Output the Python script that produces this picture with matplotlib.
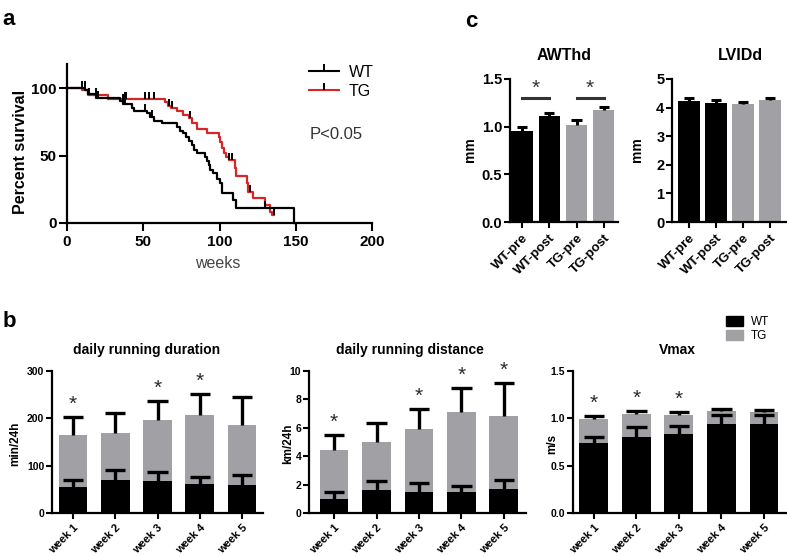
import numpy as np
import matplotlib
matplotlib.use("Agg")
import matplotlib.pyplot as plt
from matplotlib.lines import Line2D
from matplotlib.patches import Patch

plt.rcParams['font.family'] = ['Liberation Sans', 'DejaVu Sans']

W, H = 787, 556
GRAY = '#a1a1a5'
RED = '#d62728'

# ---- panel a: survival (Kaplan-Meier steps)
wt_time = [0, 12, 14, 19, 35, 37, 42.6, 43.7, 52.5, 54.6, 56.8, 62.3, 72, 74, 76, 78, 80, 82,
           83.5, 85, 90.7, 91.8, 92.9, 94, 96, 98.4, 100.5, 101.6, 109, 110.5, 148.8]
wt_surv = [100, 98.5, 96, 93, 90.6, 88, 85.5, 83, 81.5, 78.5, 76, 74, 71, 68.6, 66.7, 64, 61, 58,
           54, 52, 49, 46, 43, 39.5, 37, 33, 29.6, 22.5, 17, 11.3, 0]
tg_time = [0, 10, 14, 27, 64, 66.5, 68.5, 72, 76, 80, 82, 85, 92, 99.5, 100.5, 101.5, 103, 104.5,
           106, 110, 111, 118, 119, 122, 130, 133, 134.5, 135.5]
tg_surv = [100, 98.5, 94.8, 91.8, 89.5, 87, 85, 83, 80.5, 78, 74, 70, 67, 64, 60, 56, 52, 49,
           46.5, 41, 35, 29.6, 23, 18.5, 13.3, 8.4, 6, 6]
wt_cens = [10, 11.5, 20, 36.5, 38, 51, 56, 130]
tg_cens = [12, 14.5, 19, 38, 39, 51, 53.5, 57, 67, 69, 80.5, 106, 108, 120, 135.5]

# ---- panel b: running (WT black, TG gray, mean and SEM)
weeks = ['week 1', 'week 2', 'week 3', 'week 4', 'week 5']
dur_wt = [54, 69, 67, 62, 60]
dur_wt_err = [16, 22, 20, 15, 20]
dur_tg = [164, 170, 196, 206, 185]
dur_tg_err = [39, 41, 41, 46, 60]
dur_sig = [0, 2, 3]
dist_wt = [1.0, 1.59, 1.45, 1.45, 1.68]
dist_wt_err = [0.45, 0.68, 0.65, 0.47, 0.61]
dist_tg = [4.42, 5.0, 5.91, 7.08, 6.82]
dist_tg_err = [1.05, 1.36, 1.40, 1.75, 2.34]
dist_sig = [0, 2, 3, 4]
vmax_wt = [0.743, 0.806, 0.834, 0.94, 0.94]
vmax_wt_err = [0.063, 0.104, 0.086, 0.094, 0.094]
vmax_tg = [0.99, 1.05, 1.034, 1.076, 1.062]
vmax_tg_err = [0.03, 0.03, 0.036, 0.024, 0.028]
vmax_sig = [0, 1, 2]

# ---- panel c: echo
groups = ['WT-pre', 'WT-post', 'TG-pre', 'TG-post']
awthd = [0.955, 1.113, 1.019, 1.17]
awthd_err = [0.039, 0.027, 0.051, 0.04]
lvidd = [4.24, 4.16, 4.12, 4.25]
lvidd_err = [0.09, 0.09, 0.08, 0.08]
group_colors = ['black', 'black', GRAY, GRAY]


def rect(l, t, r, b):
    return [l / W, 1 - b / H, (r - l) / W, (b - t) / H]


def ftext(x, y, s, **kw):
    fig.text(x / W, 1 - y / H, s, **kw)


def prism(ax, lab_size, tick_len=4):
    for s in ['top', 'right']:
        ax.spines[s].set_visible(False)
    for s in ['left', 'bottom']:
        ax.spines[s].set_linewidth(1.6)
    ax.tick_params(direction='out', length=tick_len, width=1.5, labelsize=lab_size, pad=1.5)
    for lab in ax.get_xticklabels() + ax.get_yticklabels():
        lab.set_fontweight('bold')


def err_bars(ax, x, vals, errs, capw, lw=2.4):
    x = np.asarray(x, float)
    top = np.asarray(vals) + np.asarray(errs)
    ax.vlines(x, vals, top, color='black', lw=lw, zorder=4)
    ax.hlines(top, x - capw, x + capw, color='black', lw=lw, zorder=4)


def step_at(times, surv, t):
    i = np.searchsorted(times, t, side='right') - 1
    return np.asarray(surv)[i]


fig = plt.figure(figsize=(W / 100, H / 100), dpi=100)

# ================= a
ax = fig.add_axes(rect(67, 64, 372, 223))
ax.step(wt_time, wt_surv, where='post', color='black', lw=1.6, clip_on=False, zorder=3)
ax.step(tg_time, tg_surv, where='post', color=RED, lw=1.6, clip_on=False, zorder=2)
ax.plot(wt_cens, step_at(wt_time, wt_surv, wt_cens), ls='none', marker=2, ms=5, mew=1.4,
        color='black', zorder=4)
ax.plot(tg_cens, step_at(tg_time, tg_surv, tg_cens), ls='none', marker=2, ms=5, mew=1.4,
        color='black', zorder=4)
ax.set_xlim(0, 200)
ax.set_ylim(0, 118)
ax.set_xticks([0, 50, 100, 150, 200])
ax.set_yticks([0, 50, 100])
prism(ax, 11, tick_len=6)
ax.tick_params(axis='x', pad=3)
handles = [Line2D([0], [0], color='black', lw=1.5, marker=2, ms=5, mew=1.4, mec='black'),
           Line2D([0], [0], color=RED, lw=1.5, marker=2, ms=5, mew=1.4, mec='black')]
ax.legend(handles, ['WT', 'TG'], loc='upper left', bbox_to_anchor=(309 / W, 1 - 65 / H),
          bbox_transform=fig.transFigure, frameon=False, fontsize=11.5, handlelength=1.9,
          handletextpad=0.6, labelspacing=0.25, borderpad=0, borderaxespad=0, numpoints=1)
ftext(310, 134, 'P<0.05', fontsize=12, color='#333333', va='center')
ftext(21, 152, 'Percent survival', fontsize=11.5, fontweight='bold', rotation=90,
      ha='center', va='center')
ftext(218, 264, 'weeks', fontsize=11.5, color='#444444', ha='center', va='center')
ftext(2, 25, 'a', fontsize=16, fontweight='bold')

# ================= c
for name, vals, errs, ymax, yt, ytl, box, xl, ylab_x, cx in [
        ('AWThd', awthd, awthd_err, 1.5, [0, 0.5, 1.0, 1.5], ['0.0', '0.5', '1.0', '1.5'],
         (510, 79, 618, 222), (-0.44, 3.52), 470, 564),
        ('LVIDd', lvidd, lvidd_err, 5, [0, 1, 2, 3, 4, 5], ['0', '1', '2', '3', '4', '5'],
         (672, 79, 787, 222), (-0.63, 3.63), 637, 740)]:
    ax = fig.add_axes(rect(*box))
    x = np.arange(len(groups))
    ax.bar(x, vals, 0.78, color=group_colors, zorder=2)
    err_bars(ax, x, vals, errs, 0.19, lw=2.2)
    ax.set_xlim(*xl)
    ax.set_ylim(0, ymax)
    ax.set_yticks(yt)
    ax.set_yticklabels(ytl)
    ax.set_xticks(x)
    ax.set_xticklabels(groups, rotation=45, ha='right', rotation_mode='anchor')
    prism(ax, 10.5)
    ax.tick_params(axis='x', pad=3)
    for lab in ax.get_xticklabels():
        lab.set_fontsize(9.5)
    ftext(cx, 56, name, fontsize=11.5, fontweight='bold', ha='center', va='center')
    ftext(ylab_x, 150, 'mm', fontsize=10, fontweight='bold', rotation=90, ha='center', va='center')
    if name == 'AWThd':
        for a, b in [(0, 1), (2, 3)]:
            ax.plot([a, b], [1.30, 1.30], color='#333333', lw=2.2)
            ax.text((a + b) / 2, 1.30, '*', ha='center', va='bottom', fontsize=15, color='#333333')
ftext(465, 27, 'c', fontsize=16, fontweight='bold')

# ================= b
panels = [
    ('daily running duration', 'min/24h', dur_wt, dur_wt_err, dur_tg, dur_tg_err, dur_sig,
     300, [0, 100, 200, 300], None, (52, 371, 263, 513), (-0.5, 4.5), 15, 147),
    ('daily running distance', 'km/24h', dist_wt, dist_wt_err, dist_tg, dist_tg_err, dist_sig,
     10, [0, 2, 4, 6, 8, 10], None, (309, 371, 526, 513), (-0.59, 4.52), 288, 410),
    ('Vmax', 'm/s', vmax_wt, vmax_wt_err, vmax_tg, vmax_tg_err, vmax_sig,
     1.5, [0, 0.5, 1.0, 1.5], ['0.0', '0.5', '1.0', '1.5'], (573, 371, 787, 513), (-0.49, 4.54),
     552, 677),
]
for (title, ylab, wt, wte, tg, tge, sig, ymax, yt, ytl, box, xl, ylx, tx) in panels:
    ax = fig.add_axes(rect(*box))
    x = np.arange(len(weeks))
    ax.bar(x, tg, 0.68, color=GRAY, zorder=1)
    err_bars(ax, x, tg, tge, 0.24)
    ax.bar(x, wt, 0.68, color='black', zorder=3)
    err_bars(ax, x, wt, wte, 0.24)
    top = np.asarray(tg) + np.asarray(tge)
    for i in sig:
        ax.text(i, top[i] + 0.09 * ymax, '*', ha='center', va='center', fontsize=15,
                color='#2a2a2a')
    ax.set_xlim(*xl)
    ax.set_ylim(0, ymax)
    ax.set_yticks(yt)
    if ytl:
        ax.set_yticklabels(ytl)
    ax.set_xticks(x)
    ax.set_xticklabels(weeks, rotation=45, ha='right', rotation_mode='anchor')
    prism(ax, 7.5)
    ax.tick_params(axis='x', pad=3)
    for lab in ax.get_xticklabels():
        lab.set_fontsize(8)
    ftext(tx, 350, title, fontsize=10, fontweight='bold', ha='center', va='center')
    ftext(ylx, 444, ylab, fontsize=8.5, fontweight='bold', rotation=90, ha='center', va='center')
    if title == 'Vmax':
        ax.legend(handles=[Patch(color='black', label='WT'), Patch(color=GRAY, label='TG')],
                  loc='upper left', bbox_to_anchor=(726 / W, 1 - 316 / H),
                  bbox_transform=fig.transFigure, frameon=False, fontsize=8.5,
                  handlelength=1.4, handleheight=0.9, handletextpad=0.7, labelspacing=0.15,
                  borderpad=0, borderaxespad=0)
ftext(3, 327, 'b', fontsize=16, fontweight='bold')

fig.savefig('out.png', dpi=100)
